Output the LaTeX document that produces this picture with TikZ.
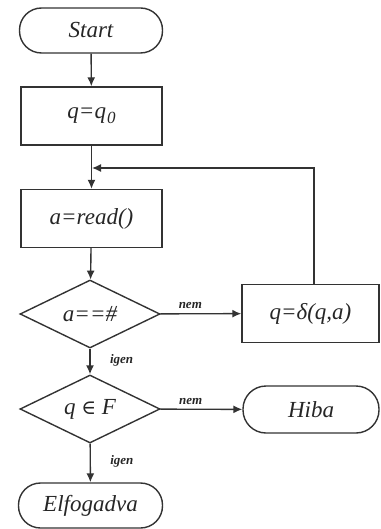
\documentclass[tikz,border=0pt]{standalone}
\usepackage{fontspec}
\setmainfont{Liberation Serif}
\newfontfamily\symfnt{DejaVu Serif}
\usetikzlibrary{shapes.geometric,arrows.meta}
\definecolor{ln}{HTML}{333333}
\begin{document}
\begin{tikzpicture}[x=1pt,y=-1pt,
  line width=1.4pt, ln,
  every node/.style={font=\fontsize{23}{25}\selectfont\itshape, text=black!85},
  term/.style={draw=ln, rectangle, rounded corners=22pt, minimum width=143pt, minimum height=45pt, inner sep=0pt},
  proc/.style={draw=ln, rectangle, minimum width=141pt, minimum height=58pt, inner sep=0pt},
  dec/.style={draw=ln, diamond, aspect=2.06, minimum width=140pt, minimum height=68pt, inner sep=0pt},
  lbl/.style={font=\fontsize{13}{14}\selectfont\bfseries\itshape},
  arr/.style={-{Latex[length=9pt,width=8pt]}}]
\useasboundingbox (0,0) rectangle (380,529);
\node[term] (start) at (91,30.5) {Start};
\node[proc] (q0) at (91.5,116) {q=q\kern1pt\raisebox{-5pt}{\fontsize{17}{18}\selectfont\itshape 0}};
\node[proc] (read) at (91.5,218.5) {a=read()};
\node[dec] (d1) at (90,314) {a==\#};
\node[proc, minimum width=137pt] (delta) at (310.5,313.5) {q=δ(q,a)};
\node[dec] (d2) at (90,409) {q {\symfnt\fontsize{20}{22}\selectfont ∈} F};
\node[term, minimum width=136pt, minimum height=47pt, rounded corners=23pt] (hiba) at (311,409.5) {Hiba};
\node[term, minimum width=144pt] (elf) at (90.5,505.5) {Elfogadva};
\coordinate (j) at (92,168);
\draw[arr] (start) -- (q0);
\draw[arr] (q0) -- (read);
\draw[arr] (delta.north -| 314,0) |- (j);
\draw[arr] (read) -- (d1);
\draw[arr] (d1) -- node[lbl, above, pos=0.37, yshift=1pt] {nem} (delta);
\draw[arr] (d1) -- node[lbl, right, pos=0.45, xshift=16pt] {igen} (d2);
\draw[arr] (d2) -- node[lbl, above, pos=0.37, yshift=1pt] {nem} (hiba);
\draw[arr] (d2) -- node[lbl, right, pos=0.45, xshift=16pt] {igen} (elf);
\end{tikzpicture}
\end{document}
